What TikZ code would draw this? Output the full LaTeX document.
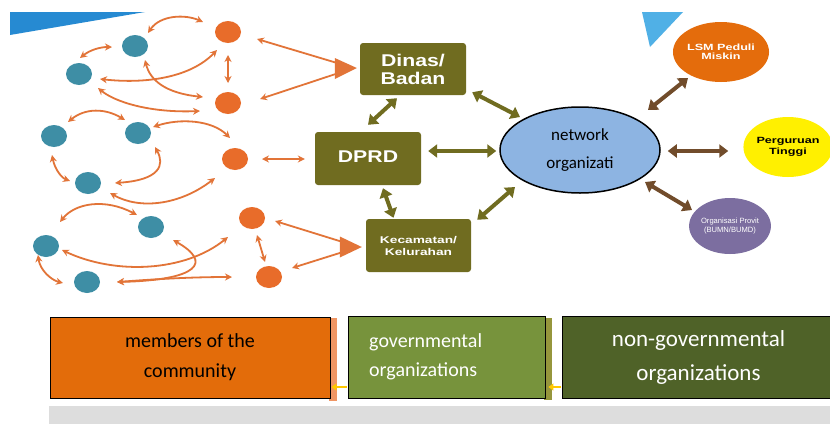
\documentclass[tikz,border=0pt]{standalone}
\usepackage{fontspec}
\setmainfont{Carlito}
\newfontfamily\arialA{Liberation Sans}
\newfontfamily\arialB[FakeStretch=1.25]{Liberation Sans}
\newfontfamily\arialC[FakeStretch=1.4]{Liberation Sans}
\usetikzlibrary{shapes.geometric,arrows.meta,calc}
\definecolor{tealc}{RGB}{62,142,165}
\definecolor{orangec}{RGB}{232,108,42}
\definecolor{oarrow}{RGB}{226,116,56}
\definecolor{olivec}{RGB}{112,108,32}
\definecolor{brownc}{RGB}{113,76,43}
\definecolor{netblue}{RGB}{141,180,226}
\definecolor{lsmc}{RGB}{228,108,12}
\definecolor{pergc}{RGB}{255,240,0}
\definecolor{orgc}{RGB}{124,110,160}
\definecolor{blueA}{RGB}{38,138,210}
\definecolor{blueB}{RGB}{80,176,230}
\definecolor{orangeb}{RGB}{227,108,10}
\definecolor{salmonb}{RGB}{240,150,100}
\definecolor{greenb}{RGB}{119,147,60}
\definecolor{oliveb}{RGB}{150,150,60}
\definecolor{darkgreenb}{RGB}{79,98,40}
\definecolor{greyb}{RGB}{221,221,221}
\definecolor{goldc}{RGB}{255,200,0}
\begin{document}
\begin{tikzpicture}[x=1pt,y=-1pt,
  tdot/.style={ellipse, fill=tealc, minimum width=26pt, minimum height=22pt, inner sep=0pt},
  odot/.style={ellipse, fill=orangec, minimum width=26pt, minimum height=22pt, inner sep=0pt},
  oline/.style={draw=oarrow, line width=1.8pt},
  oboth/.style={oline, {Stealth[length=7pt,width=7pt]}-{Stealth[length=7pt,width=7pt]}},
  ostart/.style={oline, {Stealth[length=7pt,width=7pt]}-},
  govbox/.style={rectangle, rounded corners=3pt, fill=olivec, text=white, minimum width=106pt, minimum height=52pt, inner sep=0pt, align=center},
  fatarr/.style={line width=4pt, {Triangle[length=9pt,width=13pt]}-{Triangle[length=9pt,width=13pt]}},
  bbox/.style={draw=black, line width=0.8pt, inner sep=0pt, align=center},
  roundorg/.style={ellipse, inner sep=0pt, align=center}
]
\useasboundingbox (0,0) rectangle (830,424);
\fill[white] (0,0) rectangle (830,424);
% decorative triangles
\fill[blueA] (10,12) -- (145,12) -- (10,35) -- cycle;
\fill[blueB] (642,12) -- (683,12) -- (650,47) -- cycle;

% community dots
\node[tdot] (B1) at (135,46) {};
\node[tdot] (B2) at (79,74) {};
\node[tdot] (B3) at (54,136) {};
\node[tdot] (B4) at (138,133) {};
\node[tdot] (B5) at (88,183) {};
\node[tdot] (B6) at (151,227) {};
\node[tdot] (B7) at (46,246) {};
\node[tdot] (B8) at (87,282) {};
\node[odot] (O1) at (228,32) {};
\node[odot] (O2) at (228,103) {};
\node[odot] (O3) at (235,159) {};
\node[odot] (O4) at (252,218) {};
\node[odot] (O5) at (269,277) {};

% government boxes
\node[govbox, font=\arialB\bfseries\fontsize{17}{18}\selectfont] (dinas) at (413,69) {Dinas/\\Badan};
\node[govbox, minimum height=53pt, font=\arialB\bfseries\fontsize{17}{18}\selectfont] (dprd) at (368,158.5) {\raisebox{4pt}{DPRD}};
\node[govbox, minimum width=105pt, minimum height=53pt, font=\arialC\bfseries\fontsize{9.8}{12}\selectfont] (kec) at (418.5,245.5) {Kecamatan/\\Kelurahan};

% network
\node[ellipse, draw=black, line width=1.5pt, fill=netblue, minimum width=160pt, minimum height=86pt, inner sep=0pt, align=center, font=\fontsize{17}{28}\selectfont] (net) at (580,150) {network\\organizati};

% non-governmental circles
\node[roundorg, fill=lsmc, text=white, minimum width=72pt, minimum height=60pt, font=\arialC\bfseries\fontsize{9}{9}\selectfont] (lsm) at (721,52) {LSM Peduli\\Miskin};
\node[roundorg, fill=pergc, text=black, minimum width=77pt, minimum height=60pt, font=\arialC\bfseries\fontsize{9}{11}\selectfont] (perg) at (788,147) {Perguruan\\Tinggi};
\node[roundorg, fill=orgc, text=white, minimum width=76pt, minimum height=56pt, font=\arialA\fontsize{7.6}{9}\selectfont] (org) at (730,226) {Organisasi Provit\\(BUMN/BUMD)};

% orange curved connectors
\draw[oboth] ($(B1)+(13,-13)$) .. controls +(12,-18) and +(-18,-8) .. ($(O1)+(-25,-10)$);
\draw[oboth] ($(B2)+(1,-16)$) .. controls +(10,-8) and +(-12,0) .. ($(B1)+(-23,1)$);
\draw[oboth] ($(B2)+(21,5)$) .. controls +(45,5) and +(-27,28) .. ($(O1)+(-11,18)$);
\draw[oboth] ($(B1)+(10,14)$) .. controls +(5,20) and +(-38,-4) .. ($(O2)+(-25,-6)$);
\draw[oboth] ($(B2)+(19,14)$) .. controls +(17,14) and +(-50,2) .. ($(O2)+(-28,8)$);
\draw[oboth] ($(B3)+(14,-14)$) .. controls +(17,-14) and +(-20,-12) .. ($(B4)+(-13,-13)$);
\draw[oboth] ($(B4)+(15,-6)$) .. controls +(27,-9) and +(-18,-18) .. ($(O3)+(-5,-21)$);
\draw[oboth] ($(B4)+(17,14)$) .. controls +(10,18) and +(45,-3) .. ($(B5)+(27,0)$);
\draw[oboth] ($(B3)+(-2,19)$) .. controls +(3,15) and +(-8,-3) .. ($(B5)+(-18,-2)$);
\draw[oboth] ($(B5)+(22,10)$) .. controls +(30,17) and +(-35,27) .. ($(O3)+(-20,19)$);
\draw[oboth] ($(B7)+(14,-24)$) .. controls +(15,-19) and +(-32,-17) .. ($(B6)+(-14,-12)$);
\draw[oboth] ($(B7)+(16,4)$) .. controls +(53,25) and +(-43,35) .. ($(O4)+(-24,19)$);
\draw[oboth] ($(B8)+(30,0)$) .. controls +(40,-3) and +(-40,0) .. ($(O5)+(-37,0)$);
\draw[oboth] ($(B8)+(30,0)$) .. controls +(83,-2) and +(39,22) .. ($(B6)+(22,13)$);
\draw[oboth] ($(B7)+(-8,9)$) .. controls +(2,15) and +(-12,-3) .. ($(B8)+(-24,1)$);

% orange straight connectors
\draw[ostart] ($(O1)+(29,7)$) -- ($(dinas.west)+(-6,-1)$);
\draw[ostart] ($(O2)+(32,-4)$) -- ($(dinas.west)+(-6,-1)$);
\fill[oarrow] ($(dinas.west)+(-3,-1)$) -- ($(dinas.west)+(-25,-11)$) -- ($(dinas.west)+(-25,10)$) -- cycle;
\draw[oboth] ($(O1)+(0,23)$) -- ($(O2)+(0,-20)$);
\draw[oboth] ($(O3)+(27,0)$) -- ($(dprd.west)+(-10,0.5)$);
\draw[ostart] ($(O4)+(23,3)$) -- ($(kec.west)+(-7,1.5)$);
\draw[ostart] ($(O5)+(23,-9)$) -- ($(kec.west)+(-7,1.5)$);
\fill[oarrow] ($(kec.west)+(-4,1.5)$) -- ($(kec.west)+(-26,-9)$) -- ($(kec.west)+(-26,12)$) -- cycle;
\draw[oboth] ($(O4)+(5,17)$) -- ($(O5)+(-4,-15)$);

% olive connectors
\draw[fatarr, draw=olivec, fill=olivec] ($(dinas.south east)+(6,-3)$) -- ($(net)+(-60,-33)$);
\draw[fatarr, draw=olivec, fill=olivec] ($(dprd.north)+(0,-7)$) -- ($(dinas.south)+(-16,3)$);
\draw[fatarr, draw=olivec, fill=olivec] ($(dprd.east)+(7,-7.5)$) -- ($(net.west)+(-3,1)$);
\draw[fatarr, draw=olivec, fill=olivec] ($(dprd.south)+(15,3)$) -- ($(kec.north)+(-25,-1)$);
\draw[fatarr, draw=olivec, fill=olivec] ($(kec.north east)+(6,1)$) -- ($(net)+(-65,37)$);

% brown connectors
\draw[fatarr, draw=brownc, fill=brownc] ($(net)+(68,-40)$) -- ($(lsm)+(-33,26)$);
\draw[fatarr, draw=brownc, fill=brownc] ($(net.east)+(7,1)$) -- ($(perg.west)+(-15,4)$);
\draw[fatarr, draw=brownc, fill=brownc] ($(net)+(65,32)$) -- ($(org)+(-38,-16)$);

% bottom legend
\fill[salmonb] (329,318) rectangle (337,401);
\fill[oliveb] (544,318) rectangle (552,400);
\fill[greyb] (49,406) rectangle (830,424);
\node[bbox, fill=orangeb, minimum width=280pt, minimum height=81pt, text=black, font=\fontsize{20}{30}\selectfont] (memb) at (190,357.5) {members of the\\community};
\node[bbox, fill=greenb, minimum width=197pt, minimum height=82pt] (govt) at (446.5,357) {};
\node[anchor=west, inner sep=0pt, text=white, align=left, font=\fontsize{20}{29}\selectfont] (govtxt) at (369,357) {governmental\\organizations};
\node[bbox, fill=darkgreenb, minimum width=273pt, minimum height=82pt, text=white, font=\fontsize{23}{34}\selectfont] (ngo) at (698.5,357) {non-governmental\\organizations};
\draw[goldc, line width=2.5pt, -{Triangle[length=5pt,width=7pt]}] ($(govt.west)+(-1,30)$) -- ($(memb.east)+(1,29.5)$);
\draw[goldc, line width=2.5pt, -{Triangle[length=5pt,width=7pt]}] ($(ngo.west)+(-1,30)$) -- ($(govt.east)+(3,30)$);
\end{tikzpicture}
\end{document}
